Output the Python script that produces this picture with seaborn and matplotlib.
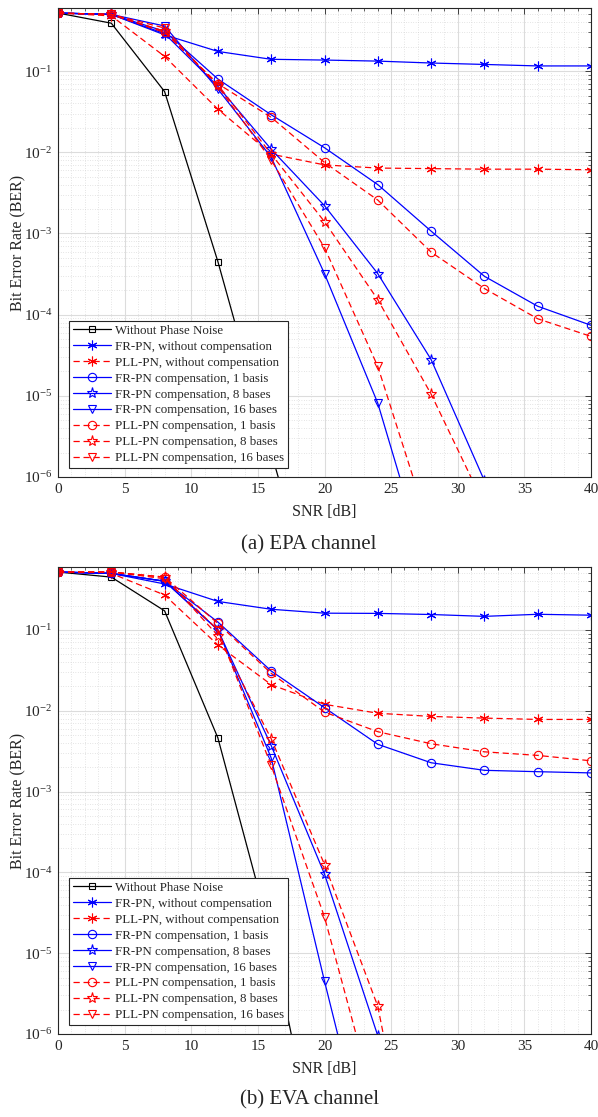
import numpy as np
import matplotlib
matplotlib.use('Agg')
import matplotlib.pyplot as plt
from matplotlib.ticker import LogLocator, MultipleLocator, NullFormatter
import seaborn as sns

# SNR points (dB)
snr = [0, 4, 8, 12, 16, 20, 24, 28, 32, 36, 40]

# (a) EPA channel - BER values
epa_no_pn = [0.52, 0.39, 0.056, 4.5e-4, 2e-6, 1e-8]
epa_fr_nocomp = [0.52, 0.5, 0.28, 0.175, 0.14, 0.137, 0.133, 0.126, 0.121, 0.116, 0.116]
epa_pll_nocomp = [0.52, 0.48, 0.152, 0.034, 0.0095, 0.007, 0.0064, 0.0063, 0.0062, 0.0062, 0.0061]
epa_fr_1 = [0.52, 0.5, 0.31, 0.08, 0.029, 0.0114, 0.004, 0.00107, 2.97e-4, 1.27e-4, 7.4e-5]
epa_fr_8 = [0.52, 0.5, 0.29, 0.065, 0.0109, 0.0022, 3.2e-4, 2.8e-5, 9e-7]
epa_fr_16 = [0.52, 0.5, 0.36, 0.06, 0.0087, 3.2e-4, 8.1e-6, 5e-8]
epa_pll_1 = [0.52, 0.5, 0.3, 0.07, 0.027, 0.0075, 0.00258, 5.9e-4, 2.1e-4, 8.9e-5, 5.4e-5]
epa_pll_8 = [0.52, 0.5, 0.31, 0.068, 0.0095, 0.0014, 1.53e-4, 1.05e-5, 4.5e-7]
epa_pll_16 = [0.52, 0.5, 0.34, 0.065, 0.008, 6.7e-4, 2.3e-5, 2e-7]

# (b) EVA channel - BER values
eva_no_pn = [0.52, 0.45, 0.172, 0.0046, 1.6e-5, 1e-8]
eva_fr_nocomp = [0.52, 0.5, 0.37, 0.225, 0.18, 0.161, 0.16, 0.155, 0.147, 0.156, 0.152]
eva_pll_nocomp = [0.52, 0.5, 0.27, 0.065, 0.021, 0.012, 0.0093, 0.0085, 0.0081, 0.0078, 0.0078]
eva_fr_1 = [0.52, 0.5, 0.4, 0.125, 0.031, 0.0109, 0.00384, 0.00227, 0.00183, 0.00176, 0.0017]
eva_fr_8 = [0.52, 0.5, 0.4, 0.1, 0.0037, 9.5e-5, 9.5e-7]
eva_fr_16 = [0.52, 0.5, 0.4, 0.1, 0.0026, 4.5e-6, 1e-8]
eva_pll_1 = [0.52, 0.52, 0.45, 0.12, 0.029, 0.0096, 0.0055, 0.0039, 0.0031, 0.0028, 0.0024]
eva_pll_8 = [0.52, 0.52, 0.45, 0.085, 0.0045, 1.25e-4, 2.2e-6, 1e-9]
eva_pll_16 = [0.52, 0.52, 0.43, 0.1, 0.0021, 2.8e-5, 1e-7]

labels = ['Without Phase Noise', 'FR-PN, without compensation', 'PLL-PN, without compensation',
          'FR-PN compensation, 1 basis', 'FR-PN compensation, 8 bases', 'FR-PN compensation, 16 bases',
          'PLL-PN compensation, 1 basis', 'PLL-PN compensation, 8 bases', 'PLL-PN compensation, 16 bases']

epa = [epa_no_pn, epa_fr_nocomp, epa_pll_nocomp, epa_fr_1, epa_fr_8, epa_fr_16, epa_pll_1, epa_pll_8, epa_pll_16]
eva = [eva_no_pn, eva_fr_nocomp, eva_pll_nocomp, eva_fr_1, eva_fr_8, eva_fr_16, eva_pll_1, eva_pll_8, eva_pll_16]

dash = (0, (5, 3))
colors = ['black', 'blue', 'red', 'blue', 'blue', 'blue', 'red', 'red', 'red']
lstyles = ['-', '-', dash, '-', '-', '-', dash, dash, dash]
markers = ['s', (6, 2, 0), (6, 2, 0), 'o', '*', 'v', 'o', '*', 'v']
msizes = [5, 7, 7, 6, 8, 6, 6, 8, 6]

sns.set_theme(style='white')
plt.rcParams['font.family'] = ['Liberation Serif', 'DejaVu Serif']
plt.rcParams['mathtext.fontset'] = 'custom'
plt.rcParams['mathtext.rm'] = 'Liberation Serif'
plt.rcParams['mathtext.it'] = 'Liberation Serif:italic'

fig = plt.figure(figsize=(5.98, 11.17), dpi=100)
W, H = 598, 1117


def panel(top, bottom, data, caption, cap_y):
    ax = fig.add_axes([58 / W, 1 - bottom / H, 533 / W, (bottom - top) / H])
    for vals, lab, c, ls, m, ms in zip(data, labels, colors, lstyles, markers, msizes):
        sns.lineplot(x=snr[:len(vals)], y=vals, ax=ax, color=c, linestyle=ls, marker=m,
                     markersize=ms, markerfacecolor='none', markeredgecolor=c,
                     markeredgewidth=0.8, linewidth=0.9, label=lab)
    ax.set_yscale('log')
    ax.set_xlim(0, 40)
    ax.set_ylim(1e-6, 0.6)
    ax.xaxis.set_major_locator(MultipleLocator(5))
    ax.xaxis.set_minor_locator(MultipleLocator(1))
    ax.yaxis.set_major_locator(LogLocator(base=10, numticks=10))
    ax.yaxis.set_minor_locator(LogLocator(base=10, subs=np.arange(2, 10), numticks=20))
    ax.yaxis.set_minor_formatter(NullFormatter())
    ax.tick_params(which='both', direction='in', top=True, right=True, colors='#262626',
                   labelcolor='#262626', labelsize=11, pad=4)
    ax.tick_params(which='major', length=4, width=0.6)
    ax.tick_params(which='minor', length=2, width=0.5)
    ax.grid(which='major', color='#dcdcdc', linewidth=0.8, linestyle='-')
    ax.grid(which='minor', color='#cccccc', linewidth=0.5, linestyle=(0, (1, 2.5)))
    ax.set_axisbelow(True)
    for s in ax.spines.values():
        s.set_color('#262626')
        s.set_linewidth(0.8)
    ax.set_xlabel('SNR [dB]', fontsize=11.5, color='#262626', labelpad=6)
    ax.set_ylabel('Bit Error Rate (BER)', fontsize=11.5, color='#262626', labelpad=-2)
    leg = ax.legend(loc='lower left', bbox_to_anchor=(0.02, 0.019), borderaxespad=0,
                    fontsize=9.3, handlelength=3.0, handletextpad=0.3, labelspacing=0.3,
                    borderpad=0.3, fancybox=False, framealpha=1, edgecolor='#262626')
    leg.get_frame().set_linewidth(0.8)
    fig.text(309 / W, 1 - cap_y / H, caption, ha='center', va='center', fontsize=15)
    return ax


panel(8, 477, epa, '(a) EPA channel', 545)
panel(567, 1034, eva, '(b) EVA channel', 1100)

fig.savefig('out.png', dpi=100)
